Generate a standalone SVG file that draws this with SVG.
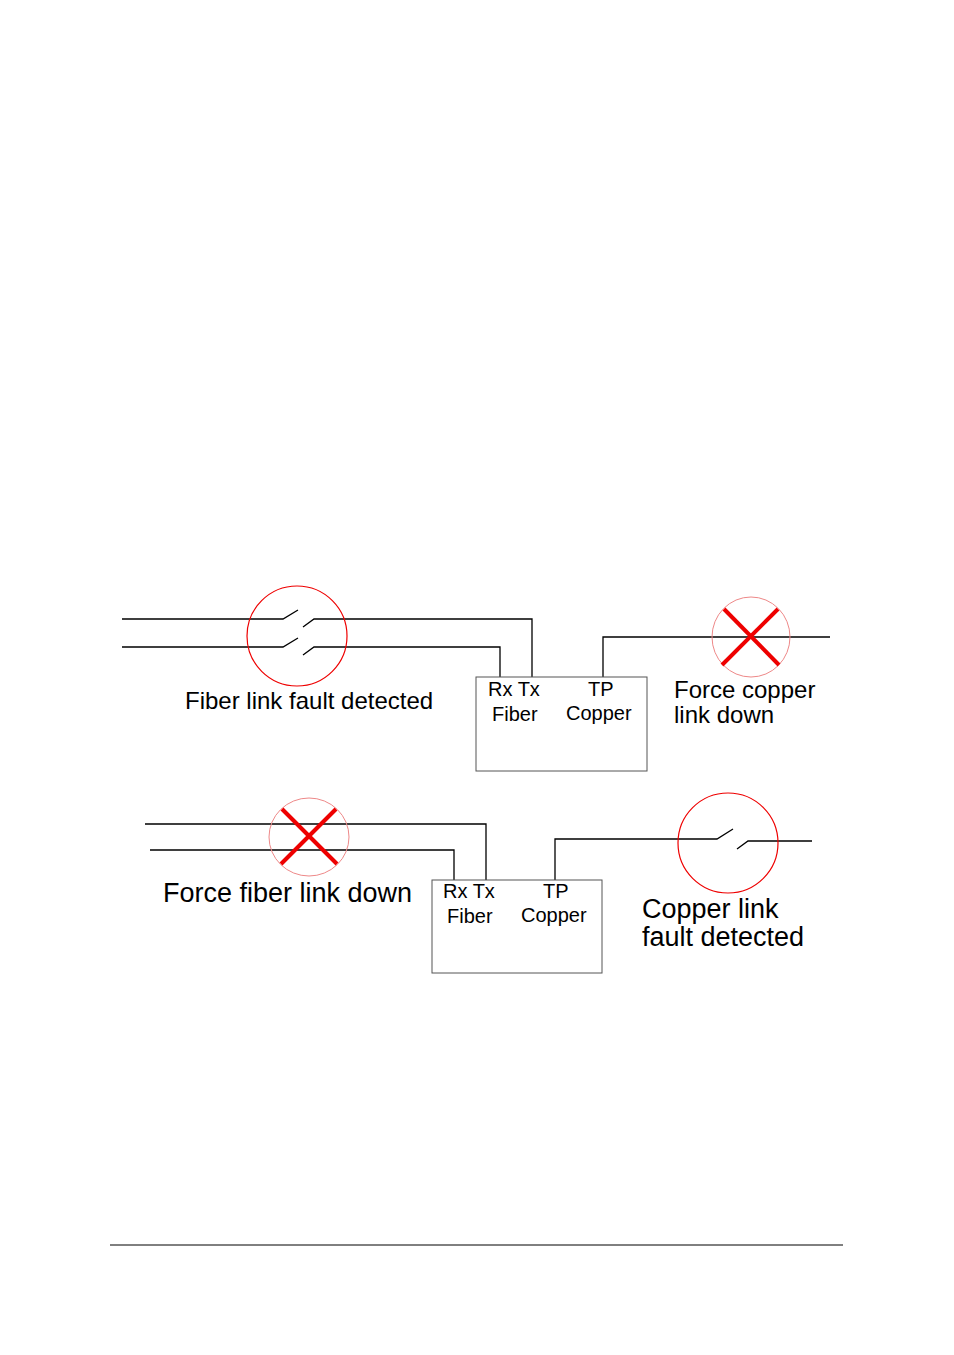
<svg xmlns="http://www.w3.org/2000/svg" width="954" height="1355" viewBox="0 0 954 1355">
<style>
.w{fill:none;stroke:#000;stroke-width:1.3}
.b{fill:#fff;stroke:#555;stroke-width:1}
.c{fill:none;stroke:#e00;stroke-width:1.2}
.cl{fill:none;stroke:#e88;stroke-width:1}
.x{stroke:#e00;stroke-width:4}
.t{font-family:"Liberation Sans",Arial,sans-serif;fill:#000}
</style>
<rect width="954" height="1355" fill="#fff"/>
<g id="connectors">
<path class="w" d="M122 619H283L298 610M303 627L314 619H532V677"/>
<path class="w" d="M122 647H283L298 638M303 655L314 647H500V677"/>
<path class="w" d="M603 677V637H830"/>
<path class="w" d="M145 824H486V880"/>
<path class="w" d="M150 850H454V880"/>
<path class="w" d="M555 880V839H717L733 829M737 849L748 841H812"/>
<line x1="110" y1="1245" x2="843" y2="1245" stroke="#000" stroke-width="1"/>
</g>
<g id="fault1"><ellipse class="c" cx="297" cy="636" rx="50" ry="50"/></g>
<g id="box1"><rect class="b" x="476" y="677" width="171" height="94"/>
<text class="t" x="488" y="696" font-size="20">Rx Tx</text>
<text class="t" x="492" y="721" font-size="20">Fiber</text>
<text class="t" x="588" y="696" font-size="20">TP</text>
<text class="t" x="566" y="720" font-size="20">Copper</text></g>
<g id="force1"><ellipse class="cl" cx="751" cy="637" rx="39" ry="40"/>
<line class="x" x1="724" y1="609" x2="779" y2="665"/><line class="x" x1="778" y1="609" x2="722" y2="665"/></g>
<text class="t" x="185" y="709" font-size="24">Fiber link fault detected</text>
<text class="t" x="674" y="698" font-size="24">Force copper</text>
<text class="t" x="674" y="723" font-size="24">link down</text>
<g id="force2"><ellipse class="cl" cx="309" cy="837" rx="40" ry="39"/>
<line class="x" x1="282" y1="809" x2="337" y2="864"/><line class="x" x1="336" y1="809" x2="281" y2="864"/></g>
<g id="box2"><rect class="b" x="432" y="880" width="170" height="93"/>
<text class="t" x="443" y="898" font-size="20">Rx Tx</text>
<text class="t" x="447" y="923" font-size="20">Fiber</text>
<text class="t" x="543" y="898" font-size="20">TP</text>
<text class="t" x="521" y="922" font-size="20">Copper</text></g>
<g id="fault2"><ellipse class="c" cx="728" cy="843" rx="50" ry="50"/></g>
<text class="t" x="163" y="902" font-size="27">Force fiber link down</text>
<text class="t" x="642" y="918" font-size="27">Copper link</text>
<text class="t" x="642" y="946" font-size="27">fault detected</text>
</svg>
